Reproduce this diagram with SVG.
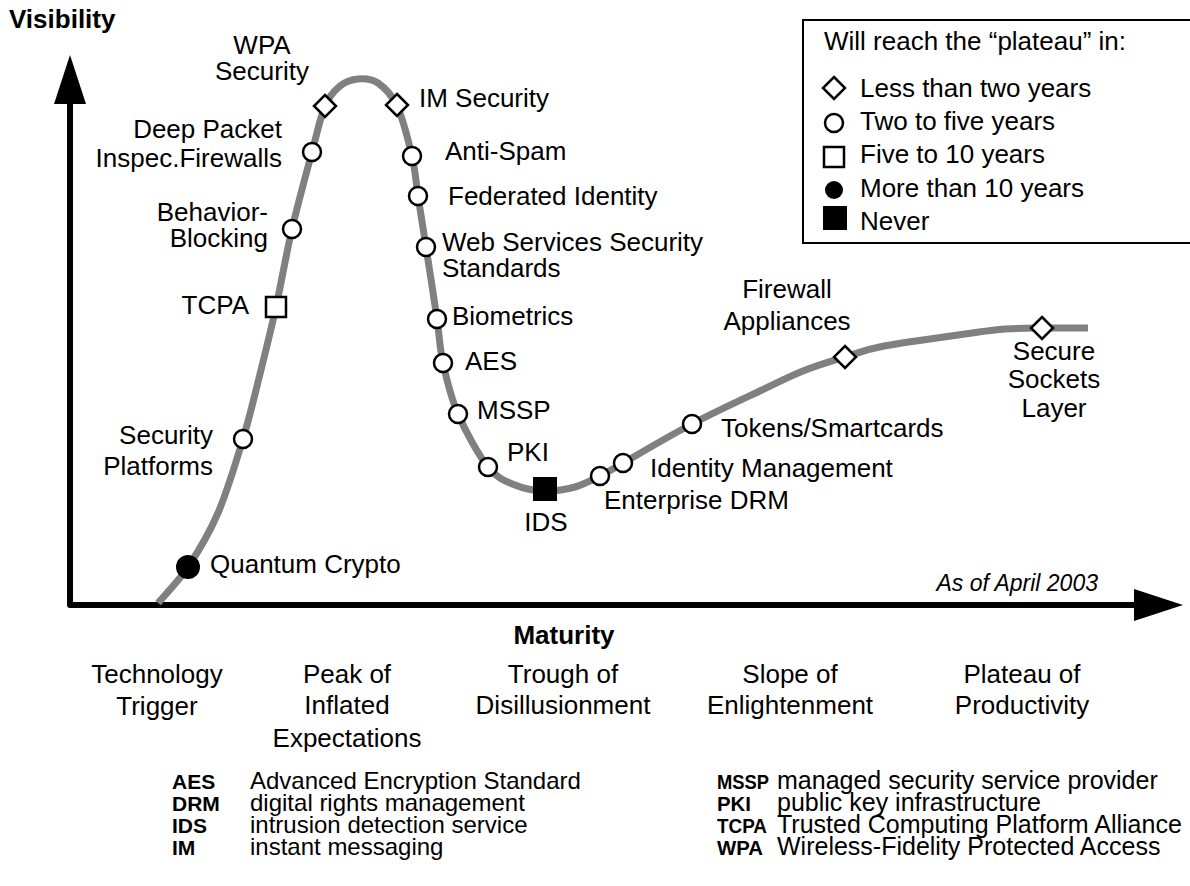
<svg xmlns="http://www.w3.org/2000/svg" xmlns:xlink="http://www.w3.org/1999/xlink" width="1190" height="886" viewBox="0 0 1190 886">
  <style>
    text { font-family: "Liberation Sans", Arial, Helvetica, sans-serif; fill: #000; }
    .lbl { font-size: 26px; }
    .b { font-weight: bold; }
    .end { text-anchor: end; }
    .mid { text-anchor: middle; }
    .note { font-size: 23px; font-style: italic; }
    .abbr { font-size: 21px; font-weight: bold; }
    .desc { font-size: 24px; }
    .descR { font-size: 25px; }
    .open { fill: #fff; stroke: #000; stroke-width: 2.5; }
    .solid { fill: #000; stroke: none; }
    .hype { fill: none; stroke: #808080; stroke-width: 7; stroke-linecap: butt; stroke-linejoin: round; }
    .axis { fill: none; stroke: #000; stroke-width: 6; stroke-linejoin: round; }
  </style>
  <defs>
    <path id="diamond" d="M0,-11 L11,0 L0,11 L-11,0 Z"/>
    <circle id="dot" r="9"/>
    <circle id="bigdot" r="12"/>
    <rect id="box" x="-10" y="-10" width="20" height="20"/>
    <rect id="bigbox" x="-12" y="-12" width="24" height="24"/>
  </defs>

  <rect width="1190" height="886" fill="#fff"/>

  <!-- axes -->
  <g id="axes">
    <path class="axis" d="M70,103 V605 H1134"/>
    <polygon points="70,55 86,104 54,104" fill="#000"/>
    <polygon points="1183,605 1134,589 1134,621" fill="#000"/>
    <text class="lbl b" x="9" y="28">Visibility</text>
    <text class="lbl b mid" x="564" y="644">Maturity</text>
    <text class="note end" x="1098" y="591">As of April 2003</text>
  </g>

  <!-- hype curve -->
  <g id="connectors">
    <path class="hype" d="M158,603 C163,597 178,582 188,567 C198,552 208.8,534.3 218,513 C227.2,491.7 235.8,462.8 243,439 C250.2,415.2 255.5,392 261,370 C266.5,348 270.8,330.5 276,307 C281.2,283.5 286,254.8 292,229 C298,203.2 306.5,172.5 312,152 C317.5,131.5 320.3,117 325,106 C329.7,95 334.5,90.5 340,86 C345.5,81.5 351.7,79.5 358,79 C364.3,78.5 371.5,78.5 378,83 C384.5,87.5 391.3,93.8 397,106 C402.7,118.2 408.5,141 412,156 C415.5,171 415.7,180.8 418,196 C420.3,211.2 422.8,226.5 426,247 C429.2,267.5 434.2,299.7 437,319 C439.8,338.3 439.5,347.2 443,363 C446.5,378.8 450.5,396.7 458,414 C465.5,431.3 478.5,455.2 488,467 C497.5,478.8 505.5,481 515,485 C524.5,489 535,490.7 545,491 C555,491.3 565.8,489.5 575,487 C584.2,484.5 592,480 600,476 C608,472 615,467.5 623,463 C638.3,454.3 668.8,436.2 692,424 C715.2,411.8 743.5,398.8 762,390 C780.5,381.2 789.2,376.5 803,371 C816.8,365.5 831.5,361.2 845,357 C858.5,352.8 864,349.8 884,346 C904,342.2 944.8,336.8 965,334 C985.2,331.2 991.7,330 1005,329 C1018.3,328 1031.2,328.2 1045,328 C1058.8,327.8 1080.8,328 1088,328"/>
  </g>

  <!-- technologies on the curve -->
  <g id="quantum-crypto">
    <use xlink:href="#bigdot" x="188" y="567" class="solid"/>
    <text class="lbl" x="210" y="573">Quantum Crypto</text>
  </g>
  <g id="security-platforms">
    <use xlink:href="#dot" x="243" y="439" class="open"/>
    <text class="lbl end" x="213" y="444">Security</text>
    <text class="lbl end" x="213" y="475">Platforms</text>
  </g>
  <g id="tcpa">
    <use xlink:href="#box" x="276" y="307" class="open"/>
    <text class="lbl end" x="249" y="314">TCPA</text>
  </g>
  <g id="behavior-blocking">
    <use xlink:href="#dot" x="292" y="229" class="open"/>
    <text class="lbl end" x="268" y="221">Behavior-</text>
    <text class="lbl end" x="268" y="247">Blocking</text>
  </g>
  <g id="deep-packet">
    <use xlink:href="#dot" x="312" y="152" class="open"/>
    <text class="lbl end" x="282" y="138">Deep Packet</text>
    <text class="lbl end" x="282" y="167">Inspec.Firewalls</text>
  </g>
  <g id="wpa-security">
    <use xlink:href="#diamond" x="325" y="106" class="open"/>
    <text class="lbl mid" x="262" y="54">WPA</text>
    <text class="lbl mid" x="262" y="80">Security</text>
  </g>
  <g id="im-security">
    <use xlink:href="#diamond" x="397" y="105" class="open"/>
    <text class="lbl" x="419" y="107">IM Security</text>
  </g>
  <g id="anti-spam">
    <use xlink:href="#dot" x="412" y="156" class="open"/>
    <text class="lbl" x="445" y="160">Anti-Spam</text>
  </g>
  <g id="federated-identity">
    <use xlink:href="#dot" x="418" y="196" class="open"/>
    <text class="lbl" x="448" y="205">Federated Identity</text>
  </g>
  <g id="web-services">
    <use xlink:href="#dot" x="426" y="247" class="open"/>
    <text class="lbl" x="442" y="251">Web Services Security</text>
    <text class="lbl" x="442" y="277">Standards</text>
  </g>
  <g id="biometrics">
    <use xlink:href="#dot" x="437" y="319" class="open"/>
    <text class="lbl" x="452" y="325">Biometrics</text>
  </g>
  <g id="aes">
    <use xlink:href="#dot" x="443" y="363" class="open"/>
    <text class="lbl" x="465" y="370">AES</text>
  </g>
  <g id="mssp">
    <use xlink:href="#dot" x="458" y="414" class="open"/>
    <text class="lbl" x="477" y="419">MSSP</text>
  </g>
  <g id="pki">
    <use xlink:href="#dot" x="488" y="467" class="open"/>
    <text class="lbl" x="507" y="461">PKI</text>
  </g>
  <g id="ids">
    <use xlink:href="#bigbox" x="545" y="489" class="solid"/>
    <text class="lbl mid" x="546" y="531">IDS</text>
  </g>
  <g id="enterprise-drm">
    <use xlink:href="#dot" x="600" y="476" class="open"/>
    <text class="lbl" x="604" y="509">Enterprise DRM</text>
  </g>
  <g id="identity-management">
    <use xlink:href="#dot" x="623" y="463" class="open"/>
    <text class="lbl" x="650" y="477">Identity Management</text>
  </g>
  <g id="tokens">
    <use xlink:href="#dot" x="692" y="424" class="open"/>
    <text class="lbl" x="721" y="437">Tokens/Smartcards</text>
  </g>
  <g id="firewall-appliances">
    <use xlink:href="#diamond" x="845" y="357" class="open"/>
    <text class="lbl mid" x="787" y="298">Firewall</text>
    <text class="lbl mid" x="787" y="330">Appliances</text>
  </g>
  <g id="ssl">
    <use xlink:href="#diamond" x="1042" y="328" class="open"/>
    <text class="lbl mid" x="1054" y="360">Secure</text>
    <text class="lbl mid" x="1054" y="388">Sockets</text>
    <text class="lbl mid" x="1054" y="417">Layer</text>
  </g>

  <!-- legend -->
  <g id="legend">
    <rect x="803" y="20" width="400" height="223" fill="#fff" stroke="#000" stroke-width="2"/>
    <text class="lbl" x="824" y="50">Will reach the “plateau” in:</text>
    <use xlink:href="#diamond" x="834" y="88" class="open"/>
    <text class="lbl" x="860" y="97">Less than two years</text>
    <use xlink:href="#dot" x="834" y="123" class="open"/>
    <text class="lbl" x="860" y="130">Two to five years</text>
    <use xlink:href="#box" x="834" y="157" class="open"/>
    <text class="lbl" x="860" y="163">Five to 10 years</text>
    <use xlink:href="#dot" x="834" y="190" class="solid"/>
    <text class="lbl" x="860" y="197">More than 10 years</text>
    <use xlink:href="#bigbox" x="835" y="218" class="solid"/>
    <text class="lbl" x="860" y="230">Never</text>
  </g>

  <!-- hype cycle phases -->
  <g id="phases">
    <text class="lbl mid" x="157" y="683">Technology</text>
    <text class="lbl mid" x="157" y="715">Trigger</text>
    <text class="lbl mid" x="347" y="683">Peak of</text>
    <text class="lbl mid" x="347" y="714">Inflated</text>
    <text class="lbl mid" x="347" y="747">Expectations</text>
    <text class="lbl mid" x="563" y="683">Trough of</text>
    <text class="lbl mid" x="563" y="714">Disillusionment</text>
    <text class="lbl mid" x="790" y="683">Slope of</text>
    <text class="lbl mid" x="790" y="714">Enlightenment</text>
    <text class="lbl mid" x="1022" y="683">Plateau of</text>
    <text class="lbl mid" x="1022" y="714">Productivity</text>
  </g>

  <!-- abbreviations -->
  <g id="glossary">
    <text class="abbr" x="172" y="789">AES</text>
    <text class="desc" x="250" y="789">Advanced Encryption Standard</text>
    <text class="abbr" x="172" y="811">DRM</text>
    <text class="desc" x="250" y="811">digital rights management</text>
    <text class="abbr" x="172" y="833">IDS</text>
    <text class="desc" x="250" y="833">intrusion detection service</text>
    <text class="abbr" x="172" y="855">IM</text>
    <text class="desc" x="250" y="855">instant messaging</text>
    <text class="abbr" x="717" y="789" textLength="52" lengthAdjust="spacingAndGlyphs">MSSP</text>
    <text class="descR" x="777" y="789">managed security service provider</text>
    <text class="abbr" x="717" y="811" textLength="34" lengthAdjust="spacingAndGlyphs">PKI</text>
    <text class="descR" x="777" y="811">public key infrastructure</text>
    <text class="abbr" x="717" y="833" textLength="50" lengthAdjust="spacingAndGlyphs">TCPA</text>
    <text class="descR" x="777" y="833">Trusted Computing Platform Alliance</text>
    <text class="abbr" x="717" y="855" textLength="46" lengthAdjust="spacingAndGlyphs">WPA</text>
    <text class="descR" x="777" y="855">Wireless-Fidelity Protected Access</text>
  </g>
</svg>
